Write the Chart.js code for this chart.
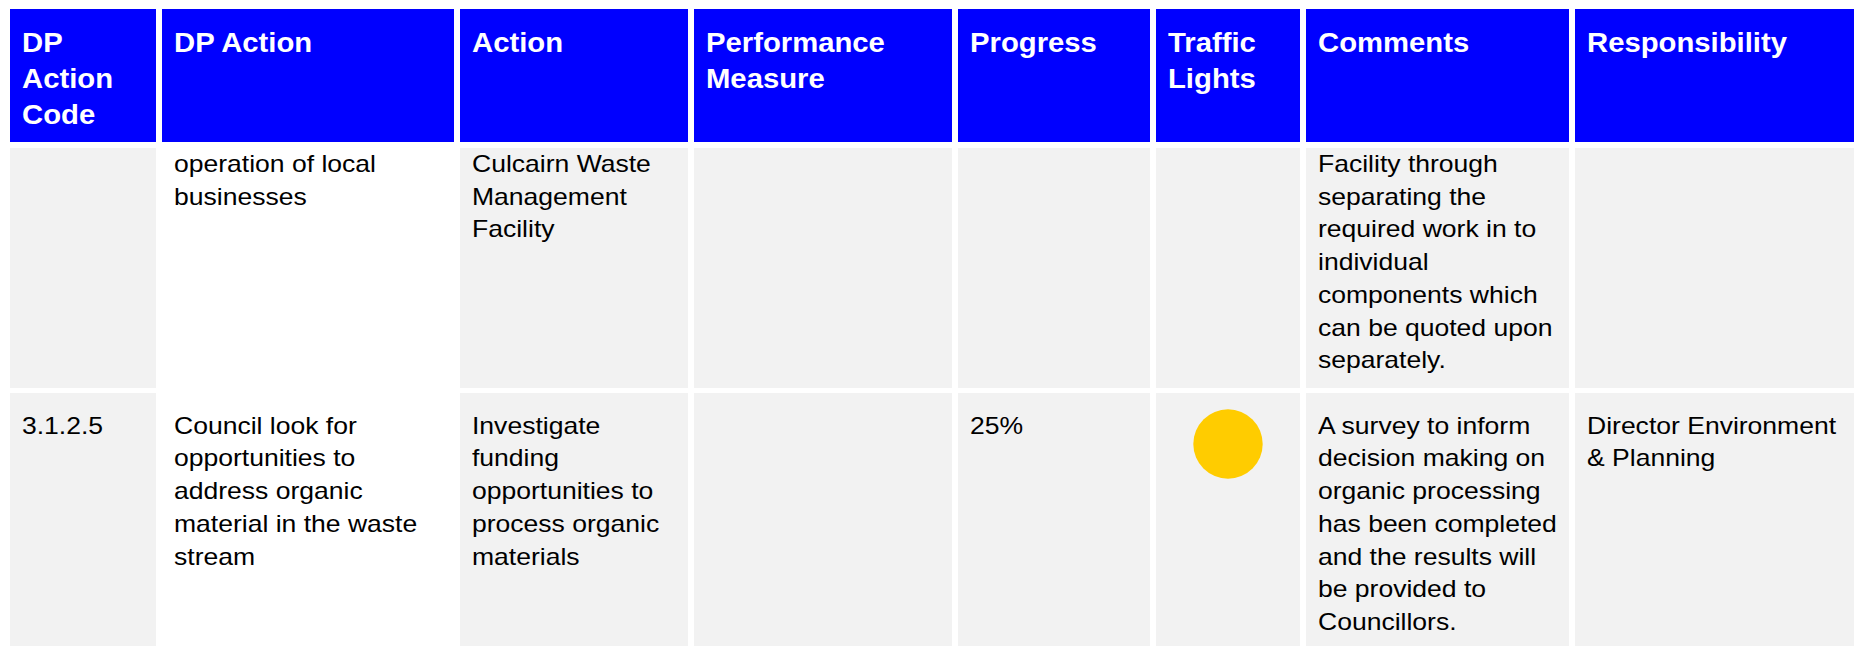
<!DOCTYPE html>
<html>
<head>
<meta charset="utf-8">
<script src="https://cdn.jsdelivr.net/npm/chart.js"></script>
<style>
html, body { margin: 0; padding: 0; background: #fff; }
body { width: 1854px; height: 646px; overflow: hidden; position: relative; font-family: "Liberation Sans", Arial, sans-serif; }
.cell { position: absolute; box-sizing: border-box; overflow: hidden; padding-left: 12px; }
.cell .t { transform-origin: 0 0; white-space: nowrap; }
.head { background: #0000ff; color: #fff; font-weight: bold; font-size: 28px; line-height: 36px; padding-top: 16px; }
.head .t { transform: scaleX(1.045); }
.body { background: #f2f2f2; color: #000; font-size: 24px; line-height: 32.7px; }
.body .t { transform: scaleX(1.105); }
.body.white { background: #fff; }
#lights { position: absolute; left: 1156px; top: 393px; }
</style>
</head>
<body>
<script>
// table text, one array per column, each row is a list of lines
const headers = [
  ['DP', 'Action', 'Code'],
  ['DP Action'],
  ['Action'],
  ['Performance', 'Measure'],
  ['Progress'],
  ['Traffic', 'Lights'],
  ['Comments'],
  ['Responsibility']
];
const codes = [[], ['3.1.2.5']];
const dpActions = [
  ['operation of local', 'businesses'],
  ['Council look for', 'opportunities to', 'address organic', 'material in the waste', 'stream']
];
const actions = [
  ['Culcairn Waste', 'Management', 'Facility'],
  ['Investigate', 'funding', 'opportunities to', 'process organic', 'materials']
];
const measures = [[], []];
const progress = [[], ['25%']];
const lights = [null, 'amber'];
const comments = [
  ['Facility through', 'separating the', 'required work in to', 'individual', 'components which', 'can be quoted upon', 'separately.'],
  ['A survey to inform', 'decision making on', 'organic processing', 'has been completed', 'and the results will', 'be provided to', 'Councillors.']
];
const responsibility = [[], ['Director Environment', '& Planning']];
const lightColours = { amber: '#ffcc00' };

// layout
const colX = [10, 162, 460, 694, 958, 1156, 1306, 1575];
const colW = [146, 292, 228, 258, 192, 144, 263, 279];
const rowY = [148, 393];
const rowH = [240, 253];
const rowPadTop = [0, 16.7];

function addCell(cls, x, y, w, h, lines, padTop) {
  const d = document.createElement('div');
  d.className = 'cell ' + cls;
  d.style.left = x + 'px'; d.style.top = y + 'px';
  d.style.width = w + 'px'; d.style.height = h + 'px';
  if (padTop !== undefined) d.style.paddingTop = padTop + 'px';
  const t = document.createElement('div');
  t.className = 't';
  lines.forEach((ln, i) => {
    if (i) t.appendChild(document.createElement('br'));
    t.appendChild(document.createTextNode(ln));
  });
  d.appendChild(t);
  document.body.appendChild(d);
}

headers.forEach((h, c) => addCell('head', colX[c], 9, colW[c], 133, h));

const columns = [codes, dpActions, actions, measures, progress, [[], []], comments, responsibility];
for (let r = 0; r < 2; r++) {
  columns.forEach((col, c) => {
    addCell('body' + (c === 1 ? ' white' : ''), colX[c], rowY[r], colW[c], rowH[r], col[r], rowPadTop[r]);
  });
}

const cv = document.createElement('canvas');
cv.id = 'lights';
cv.width = 144; cv.height = 102;
document.body.appendChild(cv);

const pts = [];
const cols = [];
lights.forEach((l, r) => {
  if (l) { pts.push({ x: 0, y: r }); cols.push(lightColours[l]); }
});

new Chart(cv.getContext('2d'), {
  type: 'scatter',
  data: {
    datasets: [{
      data: pts,
      backgroundColor: cols,
      borderWidth: 0,
      pointRadius: 34.7,
      pointHoverRadius: 34.7,
      clip: false
    }]
  },
  options: {
    responsive: false,
    animation: false,
    events: [],
    layout: { padding: 0 },
    scales: {
      x: { display: false, min: -1, max: 1 },
      y: { display: false, min: 0.5, max: 1.5 }
    },
    plugins: { legend: { display: false }, tooltip: { enabled: false } }
  }
});
</script>
</body>
</html>
